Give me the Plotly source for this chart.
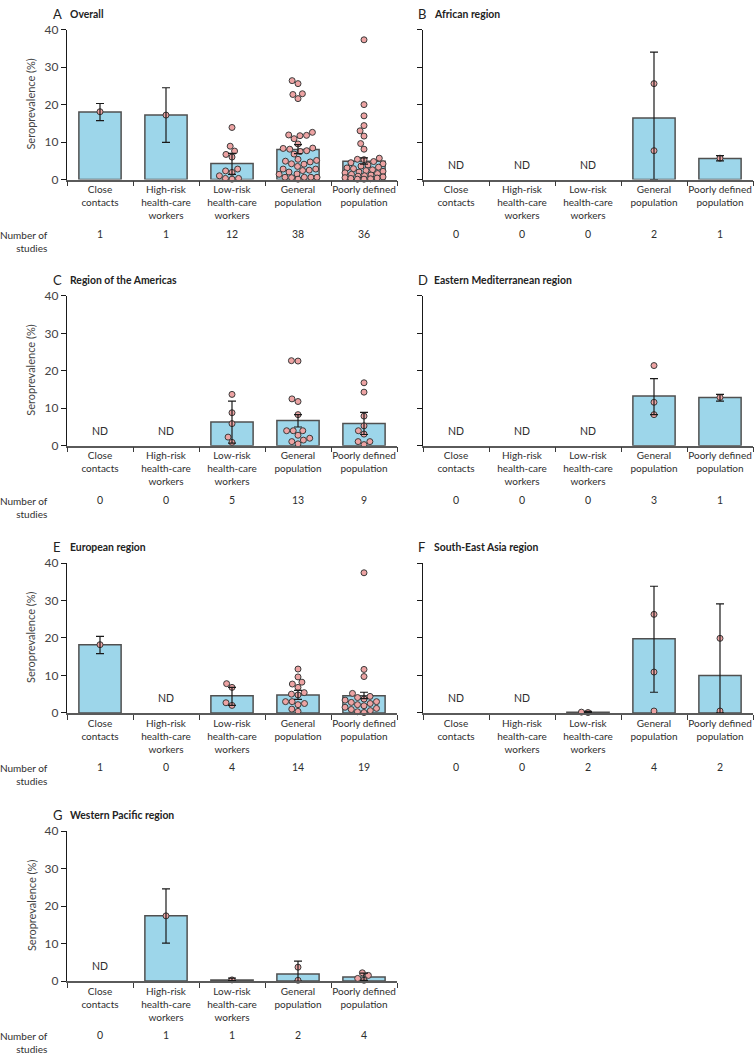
import plotly.graph_objects as go

W, H = 754, 1060

categories = ["Close<br>contacts", "High-risk<br>health-care<br>workers",
              "Low-risk<br>health-care<br>workers", "General<br>population",
              "Poorly defined<br>population"]

panel_letters = ["A", "B", "C", "D", "E", "F", "G"]
panel_titles = ["Overall", "African region", "Region of the Americas",
                "Eastern Mediterranean region", "European region",
                "South-East Asia region", "Western Pacific region"]

# pooled seroprevalence (%), None = no data (ND)
A_pooled = [18.0, 17.2, 4.3, 8.0, 4.9]
A_lower = [15.7, 9.9, 1.4, 6.9, 4.1]
A_upper = [20.3, 24.5, 7.0, 9.3, 5.8]
A_points = [
    [18.1],
    [17.2],
    [13.9, 8.9, 7.6, 6.7, 6.0, 2.8, 2.3, 1.9, 1.0, 0.3, 0.1, 0.3],
    [41.1, 26.4, 25.6, 22.9, 22.7, 21.6, 12.6, 11.9, 11.8, 11.7, 10.9, 9.5,
     8.4, 8.3, 8.1, 7.7, 7.5, 6.8, 5.4, 5.1, 4.9, 4.7, 4.2, 4.1, 3.5, 2.8,
     2.8, 2.5, 2.4, 2.0, 1.5, 1.4, 0.6, 0.6, 0.6, 0.6, 0.5, 0.1],
    [37.3, 20.0, 17.0, 14.4, 13.0, 11.6, 9.6, 8.1, 5.7, 5.4, 5.3, 4.8, 4.5,
     4.2, 3.9, 3.6, 3.3, 3.1, 2.9, 2.6, 2.4, 2.2, 2.0, 1.8, 1.6, 1.4, 1.2,
     1.0, 0.9, 0.7, 0.5, 0.4, 0.3, 0.2, 0.1, 0.1],
]
A_n = [1, 1, 12, 38, 36]

B_pooled = [None, None, None, 16.4, 5.6]
B_lower = [None, None, None, 0.0, 5.0]
B_upper = [None, None, None, 34.0, 6.4]
B_points = [[], [], [], [25.6, 7.7], [5.7]]
B_n = [0, 0, 0, 2, 1]

C_pooled = [None, None, 6.3, 6.7, 5.9]
C_lower = [None, None, 0.7, 5.0, 3.0]
C_upper = [None, None, 11.9, 8.3, 8.9]
C_points = [[], [],
            [13.7, 8.8, 5.9, 2.3, 0.9],
            [22.6, 22.7, 11.8, 12.5, 8.3, 4.0, 4.0, 4.0, 2.8, 2.0, 1.5, 1.1, 0.5],
            [16.8, 14.3, 7.9, 5.3, 4.0, 3.1, 1.1, 1.1, 0.3]]
C_n = [0, 0, 5, 13, 9]

D_pooled = [None, None, None, 13.3, 12.9]
D_lower = [None, None, None, 8.3, 11.9]
D_upper = [None, None, None, 17.9, 13.7]
D_points = [[], [], [], [21.4, 11.6, 8.3], [12.9]]
D_n = [0, 0, 0, 3, 1]

E_pooled = [18.2, None, 4.6, 4.8, 4.6]
E_lower = [15.8, None, 2.0, 3.6, 3.8]
E_upper = [20.4, None, 6.8, 6.0, 5.5]
E_points = [[18.2], [],
            [7.8, 6.8, 2.7, 2.0],
            [11.7, 9.6, 8.2, 7.7, 6.8, 5.4, 5.0, 4.8, 3.0, 3.0, 2.5, 2.2, 1.0, 0.4],
            [37.4, 11.6, 9.7, 5.2, 4.4, 4.1, 3.7, 3.4, 3.0, 2.8, 2.5, 2.2, 1.9,
             1.5, 1.2, 0.9, 0.6, 0.3, 0.1]]
E_n = [1, 0, 4, 14, 19]

F_pooled = [None, None, 0.2, 19.8, 10.0]
F_lower = [None, None, 0.1, 5.5, 0.0]
F_upper = [None, None, 0.4, 33.8, 29.1]
F_points = [[], [], [0.2, 0.1], [41.0, 26.3, 10.9, 0.5], [19.9, 0.5]]
F_n = [0, 0, 2, 4, 2]

G_pooled = [None, 17.4, 0.3, 1.9, 1.1]
G_lower = [None, 10.1, 0.1, 0.0, 0.2]
G_upper = [None, 24.6, 0.8, 5.3, 2.1]
G_points = [[], [17.4], [0.3], [3.7, 0.2], [2.2, 1.5, 0.7, 0.2]]
G_n = [0, 1, 1, 2, 4]

y_ticks = [0, 10, 20, 30, 40]

panels = [
    (A_pooled, A_lower, A_upper, A_points, A_n),
    (B_pooled, B_lower, B_upper, B_points, B_n),
    (C_pooled, C_lower, C_upper, C_points, C_n),
    (D_pooled, D_lower, D_upper, D_points, D_n),
    (E_pooled, E_lower, E_upper, E_points, E_n),
    (F_pooled, F_lower, F_upper, F_points, F_n),
    (G_pooled, G_lower, G_upper, G_points, G_n),
]

# ---- styling / layout ----
FONT = "Lato, 'Open Sans', sans-serif"
BAR_FILL = "#9dd6ea"
BAR_LINE = "#505050"
DOT_FILL = "#eda3a3"
DOT_LINE = "#3a3a3a"
TEXT = "#2e2e2e"
PXU = 3.8      # pixels per y unit
PXX = 66.0     # pixels per category

col_x = [(67, 397), (423, 753)]
row_bottom = [174, 444, 715, 987]


def px_x(p):
    return p / W


def px_y(p):
    return 1 - p / H


def swarm_offsets(vals, d=6.6, max_px=19.0):
    """Beeswarm: horizontal offsets (in category units) avoiding dot overlap."""
    order = sorted(range(len(vals)), key=lambda j: vals[j])
    placed = []
    offs = [0.0] * len(vals)
    for j in order:
        y = vals[j] * PXU
        ivs = []
        for xp, yp in placed:
            dy = abs(y - yp)
            if dy < d:
                w = (d * d - dy * dy) ** 0.5
                ivs.append((xp - w, xp + w))
        cands = [0.0] + [e for iv in ivs for e in iv]
        cands = sorted(cands, key=lambda c: (abs(c), c))
        chosen = None
        for c in cands:
            if abs(c) > max_px + 1e-9:
                continue
            if all(not (lo + 1e-9 < c < hi - 1e-9) for lo, hi in ivs):
                chosen = c
                break
        if chosen is None:
            grid = [k * 0.5 for k in range(-int(2 * max_px), int(2 * max_px) + 1)]

            def cost(c):
                return sum(max(0.0, d - ((c - xp) ** 2 + (y - yp) ** 2) ** 0.5)
                           for xp, yp in placed)
            chosen = min(grid, key=lambda c: (round(cost(c), 3), abs(c)))
        placed.append((chosen, y))
        offs[j] = chosen / PXX
    return offs


fig = go.Figure()
layout = dict(
    width=W, height=H, margin=dict(l=0, r=0, t=0, b=0),
    paper_bgcolor="white", plot_bgcolor="white",
    showlegend=False,
    font=dict(family=FONT, color=TEXT, size=10),
)
annotations = []

for i, (pooled, lower, upper, points, ns) in enumerate(panels):
    k = i + 1
    xa = "x" if k == 1 else f"x{k}"
    ya = "y" if k == 1 else f"y{k}"
    col = i % 2
    row = i // 2
    left = col == 0
    x0, x1 = col_x[col]
    b = row_bottom[row]
    y40 = b - 40 * PXU

    idx = list(range(len(categories)))

    fig.add_trace(go.Bar(
        x=idx, y=pooled, width=0.64, xaxis=xa, yaxis=ya,
        marker=dict(color=BAR_FILL, line=dict(color=BAR_LINE, width=1.5)),
        hoverinfo="skip"))

    xs, ys = [], []
    for c, vals in enumerate(points):
        offs = swarm_offsets(vals)
        for v, o in zip(vals, offs):
            xs.append(c + o)
            ys.append(v)
    fig.add_trace(go.Scatter(
        x=xs, y=ys, xaxis=xa, yaxis=ya, mode="markers", cliponaxis=False,
        marker=dict(size=6, color=DOT_FILL, line=dict(color=DOT_LINE, width=1)),
        hoverinfo="skip"))

    ex = [c for c in idx if pooled[c] is not None]
    ey = [pooled[c] for c in ex]
    eplus = [upper[c] - pooled[c] for c in ex]
    eminus = [pooled[c] - lower[c] for c in ex]
    fig.add_trace(go.Scatter(
        x=ex, y=ey, xaxis=xa, yaxis=ya, mode="markers", cliponaxis=False,
        marker=dict(size=1, color="rgba(0,0,0,0)"),
        error_y=dict(type="data", symmetric=False, array=eplus, arrayminus=eminus,
                     color="#1a1a1a", thickness=1.2, width=4),
        hoverinfo="skip"))

    xkey = "xaxis" if k == 1 else f"xaxis{k}"
    ykey = "yaxis" if k == 1 else f"yaxis{k}"
    layout[xkey] = dict(
        domain=[px_x(x0), px_x(x1)], anchor=ya, range=[-0.5, 4.5],
        tickmode="array", tickvals=idx, ticktext=categories, ticks="",
        tickfont=dict(size=10, color=TEXT, family=FONT),
        showline=True, linecolor="#5a5a5a", linewidth=1.5,
        showgrid=False, zeroline=False, fixedrange=True,
        minor=dict(tickmode="array", tickvals=[-0.5, 0.5, 1.5, 2.5, 3.5, 4.5],
                   ticks="outside", ticklen=5, tickwidth=1.2, tickcolor="#3a3a3a",
                   showgrid=False),
    )
    layout[ykey] = dict(
        domain=[px_y(b), px_y(y40)], anchor=xa, range=[0, 40],
        tickmode="array", tickvals=y_ticks, ticks="outside", ticklen=5,
        tickwidth=1.2, tickcolor="#1a1a1a", showticklabels=left,
        tickfont=dict(size=12, color="#444444", family=FONT),
        showline=True, linecolor="#1a1a1a", linewidth=1.2,
        showgrid=False, zeroline=False, fixedrange=True,
    )

    # ND labels
    for c in idx:
        if pooled[c] is None:
            annotations.append(dict(text="ND", x=c, y=4, xref=xa, yref=ya,
                                    xanchor="center", yanchor="middle",
                                    showarrow=False,
                                    font=dict(size=10.5, color=TEXT, family=FONT)))

    # panel letter and title
    lx = 51 if left else 416
    tx = 68 if left else 432
    ty = y40 - 16
    annotations.append(dict(text=panel_letters[i], x=px_x(lx), y=px_y(ty),
                            xref="paper", yref="paper", xanchor="left",
                            yanchor="middle", showarrow=False,
                            font=dict(size=13, color="#222222", family=FONT)))
    annotations.append(dict(text=f"<b>{panel_titles[i]}</b>", x=px_x(tx), y=px_y(ty),
                            xref="paper", yref="paper", xanchor="left",
                            yanchor="middle", showarrow=False,
                            font=dict(size=10.4, color="#222222", family=FONT)))

    # number of studies
    ny = b + 55
    for c in idx:
        annotations.append(dict(text=str(ns[c]), x=c, y=px_y(ny), xref=xa,
                                yref="paper", xanchor="center", yanchor="middle",
                                showarrow=False,
                                font=dict(size=10.5, color=TEXT, family=FONT)))
    if left:
        annotations.append(dict(text="Number of<br>studies", x=px_x(50),
                                y=px_y(ny - 7), xref="paper", yref="paper",
                                xanchor="right", yanchor="top", align="right",
                                showarrow=False,
                                font=dict(size=10, color=TEXT, family=FONT)))
        annotations.append(dict(text="Seroprevalence (%)", x=px_x(31),
                                y=px_y(b - 76), xref="paper", yref="paper",
                                xanchor="center", yanchor="middle",
                                textangle=-90, showarrow=False,
                                font=dict(size=11, color="#444444", family=FONT)))

layout["annotations"] = annotations
fig.update_layout(**layout)
fig.write_html("out.html",
               config={"displayModeBar": False},
               post_script="document.body.style.margin='0px';"
                           "document.body.style.overflow='hidden';")
